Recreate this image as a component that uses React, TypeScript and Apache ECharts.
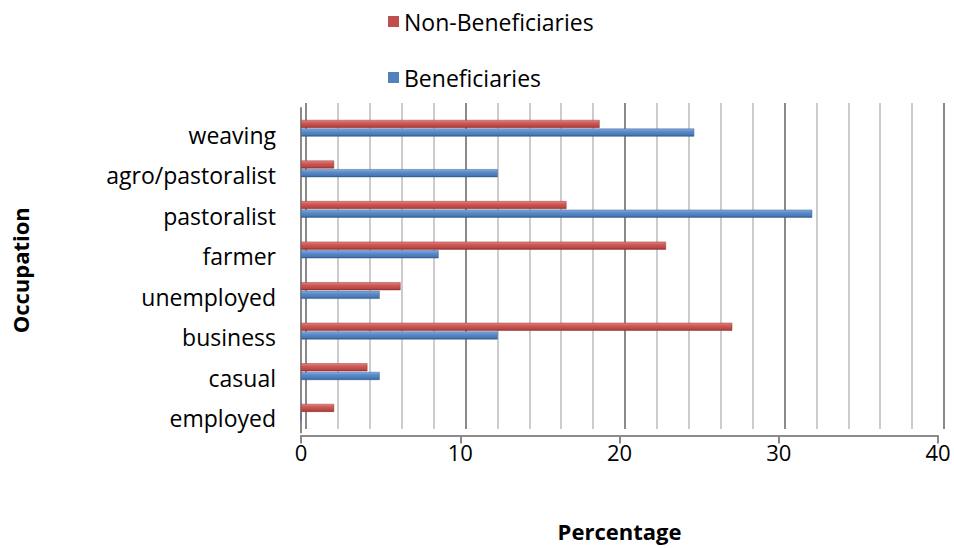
import React, { useEffect, useRef } from "react";
import * as echarts from "echarts";

// Occupations, listed bottom to top along the category axis
const occupations = [
  "employed",
  "casual",
  "business",
  "unemployed",
  "farmer",
  "pastoralist",
  "agro/pastoralist",
  "weaving",
];

// Share of respondents in each occupation (%)
const beneficiaries = [0, 4.94, 12.35, 4.94, 8.64, 32.1, 12.35, 24.69];
const nonBeneficiaries = [2.08, 4.17, 27.08, 6.25, 22.92, 16.67, 2.08, 18.75];

const xTicks = [0, 10, 20, 30, 40];

const FONT = "'Open Sans', Lato, sans-serif";
const FS = 23;
const FS_BOLD = 22;

function shade(top: string, mid: string, low: string, bottom: string) {
  return new echarts.graphic.LinearGradient(0, 0, 0, 1, [
    { offset: 0, color: top },
    { offset: 0.35, color: mid },
    { offset: 0.8, color: low },
    { offset: 1, color: bottom },
  ]);
}

export default function App() {
  const ref = useRef<HTMLDivElement>(null);

  useEffect(() => {
    if (!ref.current) return;
    const chart = echarts.init(ref.current, undefined, { renderer: "svg" });

    const xMin = xTicks[0];
    const xMax = xTicks[xTicks.length - 1];
    const step = xTicks[1] - xTicks[0];

    chart.setOption({
      animation: false,
      backgroundColor: "#ffffff",
      textStyle: { fontFamily: FONT },
      legend: {
        orient: "vertical",
        left: 383,
        top: 5,
        itemGap: 33,
        itemWidth: 11,
        itemHeight: 11,
        icon: "rect",
        textStyle: { fontFamily: FONT, fontSize: FS, color: "#000" },
        data: [
          { name: "Non-Beneficiaries", itemStyle: { color: "#C0504D", borderWidth: 0 } },
          { name: "Beneficiaries", itemStyle: { color: "#4F81BD", borderWidth: 0 } },
        ],
      },
      grid: [
        // back wall carrying the gridlines
        { left: 306, right: 10, top: 103, bottom: 119 },
        // front plane carrying the bars and the value axis
        { left: 301, right: 16, top: 108, bottom: 115.5 },
        // category labels, set slightly lower as on the chart's floor
        { left: 301, right: 16, top: 114.7, bottom: 109.7 },
      ],
      xAxis: [
        {
          gridIndex: 0,
          type: "value",
          min: xMin,
          max: xMax,
          interval: step,
          axisLine: { show: false },
          axisTick: { show: false },
          axisLabel: { show: false },
          splitLine: { show: true, lineStyle: { color: "#8a8a8a", width: 2 } },
          minorTick: { show: false, splitNumber: 5 },
          minorSplitLine: { show: true, lineStyle: { color: "#cccccc", width: 2 } },
        },
        {
          gridIndex: 1,
          type: "value",
          min: xMin,
          max: xMax,
          interval: step,
          offset: 3,
          axisLine: { show: true, lineStyle: { color: "#8a8a8a", width: 2 } },
          axisTick: { show: true, length: 8, lineStyle: { color: "#8a8a8a", width: 2 } },
          axisLabel: { fontFamily: FONT, fontSize: 22, color: "#000", margin: 5 },
          splitLine: { show: false },
          name: "Percentage",
          nameLocation: "middle",
          nameGap: 84,
          nameTextStyle: { fontFamily: FONT, fontSize: FS_BOLD, fontWeight: "bold", color: "#000" },
        },
        {
          gridIndex: 2,
          type: "value",
          min: xMin,
          max: xMax,
          show: false,
        },
      ],
      yAxis: [
        {
          gridIndex: 0,
          type: "category",
          data: occupations,
          show: false,
        },
        {
          gridIndex: 1,
          type: "category",
          data: occupations,
          axisLine: { show: true, lineStyle: { color: "#8a8a8a", width: 2 } },
          axisTick: { show: false },
          axisLabel: { show: false },
          name: "Occupation",
          nameLocation: "middle",
          nameRotate: 90,
          nameGap: 270,
          nameTextStyle: { fontFamily: FONT, fontSize: FS_BOLD, fontWeight: "bold", color: "#000" },
        },
        {
          gridIndex: 2,
          type: "category",
          data: occupations,
          axisLine: { show: false },
          axisTick: { show: false },
          axisLabel: { fontFamily: FONT, fontSize: FS, color: "#000", margin: 25 },
        },
      ],
      series: [
        {
          name: "Non-Beneficiaries",
          type: "bar",
          xAxisIndex: 1,
          yAxisIndex: 1,
          data: nonBeneficiaries,
          barWidth: 8,
          barGap: "8%",
          itemStyle: {
            color: shade("#e48683", "#cf5a57", "#bb4744", "#8a2f2d"),
            borderColor: "#973b38",
            borderWidth: 0.5,
          },
        },
        {
          name: "Beneficiaries",
          type: "bar",
          xAxisIndex: 1,
          yAxisIndex: 1,
          data: beneficiaries,
          barWidth: 8,
          barGap: "8%",
          itemStyle: {
            color: shade("#86ace0", "#5a8ccb", "#4a78b3", "#2e5586"),
            borderColor: "#3a6396",
            borderWidth: 0.5,
          },
        },
      ],
    });

    return () => chart.dispose();
  }, []);

  return (
    <div
      ref={ref}
      style={{ position: "absolute", left: 0, top: 0, width: 954, height: 548 }}
    />
  );
}
